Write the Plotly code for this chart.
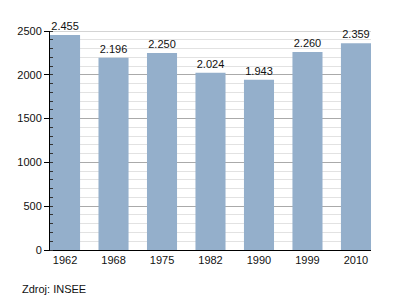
import plotly.graph_objects as go

years = ["1962", "1968", "1975", "1982", "1990", "1999", "2010"]
population = [2455, 2196, 2250, 2024, 1943, 2260, 2359]
y_ticks = [0, 500, 1000, 1500, 2000, 2500]
source = "Zdroj: INSEE"

fig = go.Figure(go.Bar(
    x=years, y=population,
    marker=dict(color="#94afcb", line=dict(width=0)),
    width=0.62,
    texttemplate="%{y:,}", textposition="outside",
    textfont=dict(size=11, color="#111111", family="Liberation Sans, Arial, sans-serif"),
    cliponaxis=False,
))

fig.update_layout(
    width=400, height=300,
    margin=dict(l=50, r=29, t=31, b=50),
    plot_bgcolor="white", paper_bgcolor="white",
    separators=",.",
    showlegend=False,
    font=dict(family="Liberation Sans, Arial, sans-serif", size=11, color="#111111"),
    xaxis=dict(
        type="category", range=[-0.31, 6.31],
        showgrid=False, showline=True, linecolor="black", linewidth=1,
        ticks="", tickfont=dict(size=11),
    ),
    yaxis=dict(
        range=[0, 2500], tickvals=y_ticks,
        showgrid=True, gridcolor="#aaaaaa", gridwidth=1,
        showline=True, linecolor="black", linewidth=1,
        ticks="outside", ticklen=5, tickcolor="black",
        tickfont=dict(size=11),
        zeroline=False,
        minor=dict(dtick=100, showgrid=True, gridcolor="#e2e2e2", gridwidth=1,
                   ticks="inside", ticklen=3, tickcolor="#333333"),
    ),
    annotations=[dict(text=source, x=(20 - 50) / (400 - 50 - 29),
                      y=(250 - 289) / (300 - 31 - 50), xref="paper", yref="paper",
                      showarrow=False, xanchor="left", yanchor="middle",
                      font=dict(size=11))],
)
fig.add_shape(type="line", xref="paper", yref="y", x0=0, x1=1, y0=2500, y1=2500,
              line=dict(color="#aaaaaa", width=1), layer="below")

fig.write_html("out.html")
